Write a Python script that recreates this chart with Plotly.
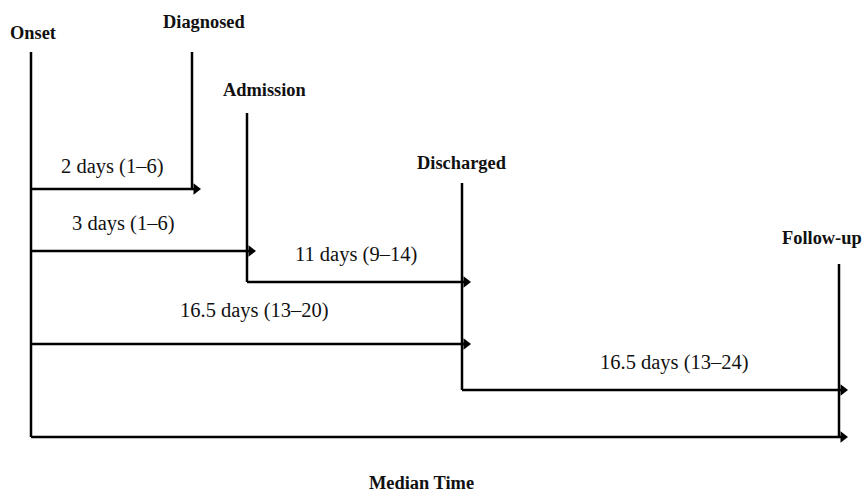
import plotly.graph_objects as go

# ---- data ----
events = ["Onset", "Diagnosed", "Admission", "Discharged", "Follow-up"]
interval_from = ["Onset", "Onset", "Admission", "Onset", "Discharged", "Onset"]
interval_to = ["Diagnosed", "Admission", "Discharged", "Discharged", "Follow-up", "Follow-up"]
interval_labels = ["2 days (1–6)", "3 days (1–6)", "11 days (9–14)",
                   "16.5 days (13–20)", "16.5 days (13–24)", ""]
axis_title = "Median Time"

# ---- schematic layout (pixel coordinates) ----
event_x = {"Onset": 31, "Diagnosed": 192, "Admission": 247, "Discharged": 462, "Follow-up": 839}
event_top = {"Onset": 52, "Diagnosed": 52, "Admission": 113, "Discharged": 183, "Follow-up": 264}
event_label_pos = {"Onset": (33, 33), "Diagnosed": (204, 22), "Admission": (264, 90),
                   "Discharged": (462, 163), "Follow-up": (822, 238)}
interval_y = [189, 251, 282, 344, 390, 437]
interval_label_pos = [(112, 166), (123, 223), (356, 254), (254, 310), (674, 362), (0, 0)]
title_pos = (421, 483)

LW = 2.5
FONT = "Times New Roman, Liberation Serif, serif"
HEAD = 10

fig = go.Figure()

# vertical event lines: from top to the lowest interval touching the event
for ev in events:
    ys = [interval_y[i] for i in range(len(interval_y))
          if interval_from[i] == ev or interval_to[i] == ev]
    fig.add_trace(go.Scatter(x=[event_x[ev], event_x[ev]], y=[event_top[ev], max(ys)],
                             mode="lines", line=dict(color="black", width=LW),
                             hoverinfo="skip", showlegend=False))

# horizontal interval arrows
for i in range(len(interval_y)):
    x0 = event_x[interval_from[i]]
    x1 = event_x[interval_to[i]]
    y = interval_y[i]
    fig.add_trace(go.Scatter(x=[x0, x1 + 2], y=[y, y], mode="lines",
                             line=dict(color="black", width=LW),
                             hoverinfo="skip", showlegend=False))
    fig.add_trace(go.Scatter(x=[x1 + 4], y=[y], mode="markers",
                             marker=dict(symbol="triangle-right", size=HEAD, color="black",
                                         line=dict(width=0)),
                             hoverinfo="skip", showlegend=False))
    if interval_labels[i]:
        lx, ly = interval_label_pos[i]
        fig.add_annotation(x=lx, y=ly, text=interval_labels[i], showarrow=False,
                           font=dict(family=FONT, size=20.5, color="#111"),
                           xanchor="center", yanchor="middle")

# event labels
for ev in events:
    lx, ly = event_label_pos[ev]
    fig.add_annotation(x=lx, y=ly, text=f"<b>{ev}</b>", showarrow=False,
                       font=dict(family=FONT, size=18.4, color="#111"),
                       xanchor="center", yanchor="middle")

fig.add_annotation(x=title_pos[0], y=title_pos[1], text=f"<b>{axis_title}</b>", showarrow=False,
                   font=dict(family=FONT, size=18.4, color="#111"),
                   xanchor="center", yanchor="middle")

fig.update_layout(
    width=862, height=493,
    margin=dict(l=0, r=0, t=0, b=0),
    paper_bgcolor="white", plot_bgcolor="white",
    xaxis=dict(range=[0, 862], visible=False, fixedrange=True),
    yaxis=dict(range=[493, 0], visible=False, fixedrange=True),
    showlegend=False,
)

fig.write_html("out.html", config={"displayModeBar": False},
               post_script="document.body.style.margin='0';document.body.style.overflow='hidden';")
